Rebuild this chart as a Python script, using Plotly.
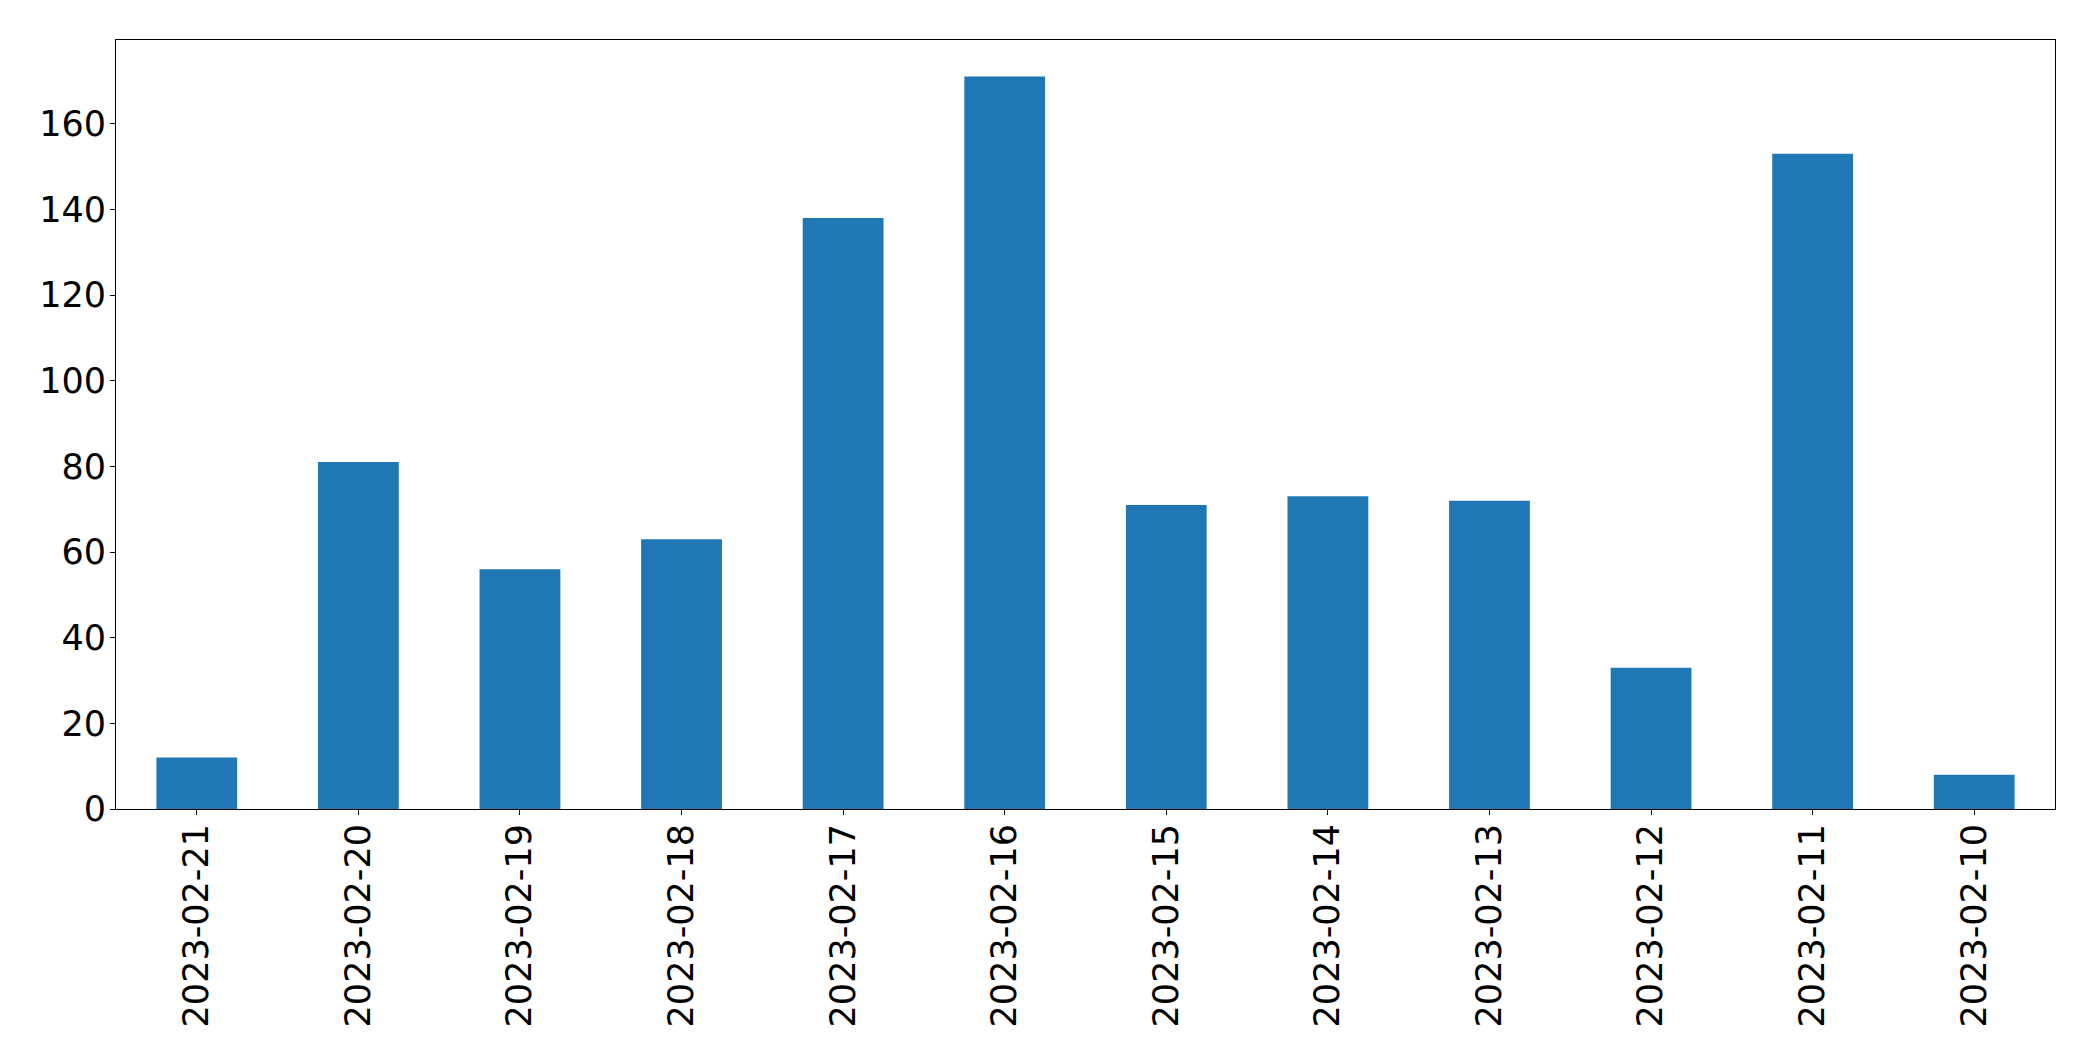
import plotly.graph_objects as go

dates = ["2023-02-21", "2023-02-20", "2023-02-19", "2023-02-18", "2023-02-17", "2023-02-16",
         "2023-02-15", "2023-02-14", "2023-02-13", "2023-02-12", "2023-02-11", "2023-02-10"]
counts = [12, 81, 56, 63, 138, 171, 71, 73, 72, 33, 153, 8]
y_ticks = [0, 20, 40, 60, 80, 100, 120, 140, 160]

fig = go.Figure(go.Bar(x=dates, y=counts, marker=dict(color="#1f77b4", line=dict(width=0)), width=0.5))

font = dict(family="DejaVu Sans", size=35, color="black")
fig.update_layout(
    width=2093, height=1061,
    margin=dict(l=116, r=38, t=40, b=252),
    paper_bgcolor="white", plot_bgcolor="white",
    showlegend=False, font=font,
)
fig.update_xaxes(
    type="category", range=[-0.5, len(dates) - 0.5],
    tickangle=-90, ticks="outside", ticklen=5, tickwidth=1, tickcolor="black",
    showline=True, linecolor="black", linewidth=1, mirror=True,
    showgrid=False, zeroline=False, tickfont=font, ticklabelstandoff=-5,
)
fig.update_yaxes(
    range=[0, max(counts) * 1.05], tickvals=y_ticks,
    ticks="outside", ticklen=5, tickwidth=1, tickcolor="black",
    showline=True, linecolor="black", linewidth=1, mirror=True,
    showgrid=False, zeroline=False, tickfont=font, ticklabelstandoff=-3,
)
fig.write_html("out.html")
